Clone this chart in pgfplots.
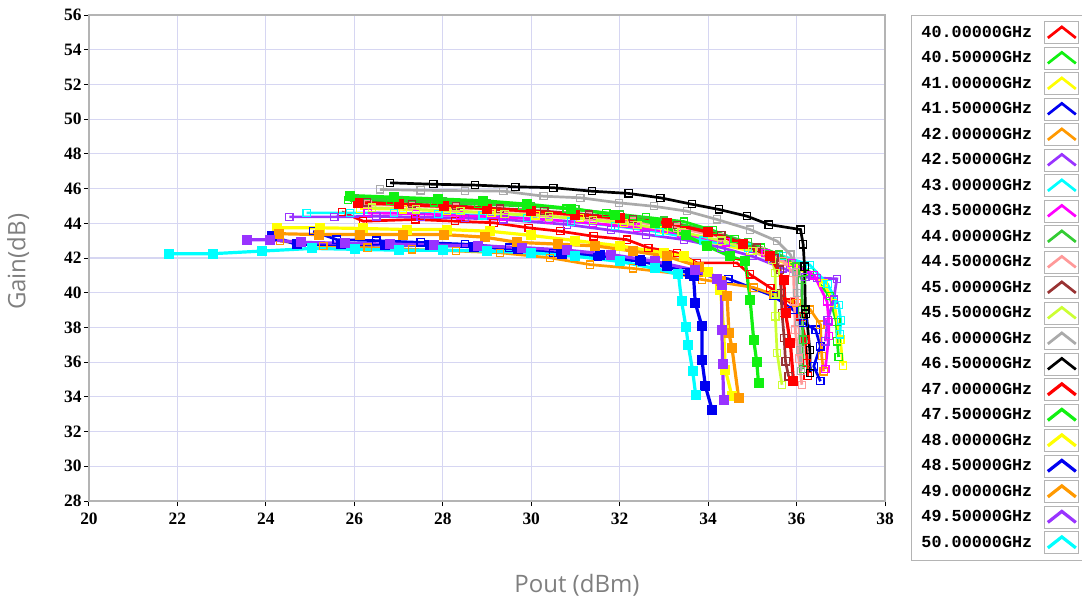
\documentclass[border=0pt]{standalone}
\usepackage{fontspec}
\setmainfont{Liberation Serif}
\newfontfamily\labfont{Open Sans}
\newfontfamily\legfont{Liberation Mono}
\usepackage{pgfplots}
\pgfplotsset{compat=1.18}

\definecolor{cRed}{HTML}{FF0000}
\definecolor{cLime}{HTML}{11F011}
\definecolor{cYel}{HTML}{FFFF00}
\definecolor{cBlue}{HTML}{0000F0}
\definecolor{cOrg}{HTML}{FF9900}
\definecolor{cPur}{HTML}{9933FF}
\definecolor{cCyan}{HTML}{00FFFF}
\definecolor{cMag}{HTML}{FF00FF}
\definecolor{cGrn}{HTML}{33CC33}
\definecolor{cPink}{HTML}{FF9999}
\definecolor{cBrn}{HTML}{993333}
\definecolor{cYG}{HTML}{CCFF33}
\definecolor{cGray}{HTML}{AAAAAA}
\definecolor{gridc}{HTML}{D6D6F2}
\definecolor{axc}{HTML}{B4B4B4}
\definecolor{labc}{HTML}{7F7F7F}

\pgfplotsset{
  openser/.style={line width=1.35pt, mark=square, mark size=1.8pt, mark options={solid, line width=0.6pt}},
  fillser/.style={line width=1.6pt, mark=square*, mark size=1.7pt, mark options={solid}},
}

\begin{document}
\begin{tikzpicture}
\path[use as bounding box] (-44.5pt,-49.5pt) rectangle (496.5pt,250.5pt);
\begin{axis}[
    at={(0,0)}, anchor=south west,
    width=398pt, height=243pt, scale only axis,
    xmin=20, xmax=38, ymin=28, ymax=56,
    xtick={20,22,...,38}, ytick={28,30,...,56},
    xtick pos=bottom, ytick pos=left,
    tick align=outside, major tick length=2.5pt,
    tick style={black, line width=0.5pt},
    axis line style={axc, line width=0.8pt},
    grid=major, grid style={gridc, line width=0.6pt},
    ticklabel style={font=\fontsize{8.7}{9}\selectfont\bfseries},
    /pgf/number format/assume math mode=true,
    yticklabel style={inner sep=1pt},
    xlabel={Pout (dBm)}, ylabel={Gain(dB)},
    xlabel style={at={(axis description cs:0.613,-0.173)}, anchor=center,
                  font=\labfont\fontsize{12}{14}\selectfont, text=labc},
    ylabel style={at={(axis description cs:-0.089,0.492)}, anchor=center, rotate=0,
                  font=\labfont\fontsize{12}{14}\selectfont, text=labc},
    legend plot pos=right,
    legend cell align=left,
    legend style={at={(1.0327,1)}, anchor=north west, draw=axc, fill=white,
                  font=\legfont\fontsize{8.4}{9}\selectfont\bfseries,
                  row sep=1.25pt, column sep=4pt, inner sep=3pt},
    legend image code/.code={
      \draw[draw=axc, line width=0.5pt, fill=white, solid] (0pt,-5.5pt) rectangle (17pt,5.5pt);
      \draw[solid] (1.5pt,-2.5pt) -- (8.5pt,3pt) -- (15.5pt,-2.5pt);
    },
]
% 40.0 GHz
\addplot[openser, color=cRed] coordinates {(25.72,44.66) (26.2,44.12) (27.38,44.22) (28.28,44.12) (29.15,44.03) (29.94,43.74) (30.66,43.54) (31.41,43.25) (32.16,43.06) (32.65,42.59) (33.29,42.3) (33.75,41.72) (34.65,41.72) (34.95,41.05) (35.41,40.28) (35.86,39.43) (36.09,38.64) (36.2,37.3) (36.24,35.95) (36.25,35.2)};
\addlegendentry{40.00000GHz}
% 40.5
\addplot[openser, color=cLime] coordinates {(25.85,45.35) (26.8,45.3) (27.8,45.2) (28.8,45.1) (29.8,45.0) (30.8,44.85) (31.7,44.6) (32.6,44.35) (33.45,44.1) (34.1,43.6) (34.6,43.1) (35.2,42.6) (35.7,42.1) (36.3,41.2) (36.75,39.8) (36.9,38.3) (36.92,37.2) (36.95,36.3)};
\addlegendentry{40.50000GHz}
% 41.0
\addplot[openser, color=cYel] coordinates {(26.13,44.85) (27.1,44.8) (28.1,44.7) (29.1,44.6) (30.1,44.45) (31.1,44.3) (32.1,44.0) (33.0,43.6) (33.9,43.0) (34.95,42.4) (35.93,41.55) (36.61,40.57) (36.85,39.4) (36.99,37.3) (37.05,35.8)};
\addlegendentry{41.00000GHz}
% 41.5
\addplot[openser, color=cBlue] coordinates {(25.07,43.54) (25.6,43.06) (26.5,43.0) (27.5,42.9) (28.5,42.8) (29.5,42.6) (30.5,42.3) (31.5,42.05) (32.5,41.8) (33.5,41.2) (34.46,40.8) (35.48,39.8) (35.93,39.0) (36.16,38.26) (36.43,37.87) (36.54,36.91) (36.39,35.76) (36.54,34.9)};
\addlegendentry{41.50000GHz}
% 42.0
\addplot[openser, color=cOrg] coordinates {(24.32,42.97) (25.3,42.7) (26.3,42.6) (27.3,42.5) (28.3,42.4) (29.3,42.3) (30.43,42.01) (31.33,41.62) (32.3,41.4) (33.3,41.1) (33.86,40.76) (35.03,40.3) (35.48,39.9) (36.0,39.4) (36.31,39.03) (36.54,38.16) (36.57,36.34) (36.61,35.47)};
\addlegendentry{42.00000GHz}
% 42.5
\addplot[openser, color=cPur] coordinates {(24.53,44.37) (25.55,44.37) (26.5,44.4) (27.5,44.35) (28.5,44.3) (29.37,44.22) (30.81,43.93) (31.8,43.6) (32.6,43.35) (33.45,43.06) (34.3,42.6) (35.0,42.1) (35.7,41.4) (36.2,40.9) (36.46,40.85) (36.91,40.8) (36.84,39.6) (36.7,38.4) (36.65,37.2)};
\addlegendentry{42.50000GHz}
% 43.0
\addplot[openser, color=cCyan] coordinates {(24.92,44.6) (25.9,44.6) (26.9,44.6) (27.9,44.55) (28.9,44.45) (29.9,44.3) (30.9,44.1) (31.9,43.85) (32.9,43.5) (33.9,43.0) (34.9,42.6) (35.7,42.1) (36.3,41.6) (36.7,40.5) (36.95,39.3) (37.0,38.4) (36.98,37.6)};
\addlegendentry{43.00000GHz}
% 43.5
\addplot[openser, color=cMag] coordinates {(26.3,44.6) (27.4,44.55) (28.4,44.45) (29.4,44.35) (30.4,44.2) (31.4,44.0) (32.4,43.75) (33.4,43.4) (34.4,42.9) (35.3,42.3) (35.9,41.7) (36.4,41.0) (36.69,39.5) (36.73,38.3) (36.73,37.49) (36.65,35.6)};
\addlegendentry{43.50000GHz}
% 44.0
\addplot[openser, color=cGrn] coordinates {(26.0,45.45) (27.0,45.35) (28.0,45.25) (29.0,45.15) (30.0,45.0) (31.0,44.8) (32.0,44.5) (33.0,44.15) (34.0,43.6) (34.9,42.9) (35.6,42.2) (36.0,41.5) (36.12,40.76) (36.13,39.0) (36.14,37.3) (36.15,35.6)};
\addlegendentry{44.00000GHz}
% 44.5
\addplot[openser, color=cPink] coordinates {(26.3,45.1) (27.3,45.0) (28.3,44.9) (29.3,44.75) (30.3,44.6) (31.3,44.4) (32.3,44.1) (33.3,43.75) (34.3,43.2) (35.2,42.4) (35.7,41.8) (35.93,41.14) (35.95,39.5) (35.97,37.87) (36.05,36.2) (36.12,34.7)};
\addlegendentry{44.50000GHz}
% 45.0
\addplot[openser, color=cBrn] coordinates {(26.28,45.2) (27.3,45.1) (28.3,45.0) (29.3,44.85) (30.3,44.7) (31.3,44.5) (32.3,44.25) (33.3,43.9) (34.3,43.3) (35.1,42.6) (35.5,42.0) (35.63,41.33) (35.65,40.0) (35.67,38.84) (35.72,37.4) (35.75,36.04) (35.82,35.18)};
\addlegendentry{45.00000GHz}
% 45.5
\addplot[openser, color=cYG] coordinates {(26.4,44.9) (27.4,44.8) (28.4,44.7) (29.4,44.55) (30.4,44.4) (31.4,44.2) (32.4,43.9) (33.4,43.5) (34.3,43.0) (35.0,42.4) (35.45,41.9) (35.52,41.14) (35.52,39.9) (35.52,38.64) (35.56,36.53) (35.67,34.7)};
\addlegendentry{45.50000GHz}
% 46.0
\addplot[openser, color=cGray] coordinates {(26.58,45.95) (27.5,45.9) (28.5,45.88) (29.37,45.85) (30.28,45.56) (31.11,45.47) (31.98,45.18) (32.77,44.98) (33.52,44.7) (34.2,44.22) (34.95,43.64) (35.56,42.97) (35.86,42.2) (36.0,41.2) (36.01,40.0) (36.05,38.3) (36.08,36.7) (36.1,35.5)};
\addlegendentry{46.00000GHz}
% 46.5
\addplot[openser, color=black] coordinates {(26.81,46.33) (27.79,46.25) (28.73,46.2) (29.64,46.1) (30.5,46.05) (31.37,45.85) (32.2,45.72) (32.92,45.47) (33.63,45.1) (34.24,44.8) (34.88,44.41) (35.37,43.93) (36.09,43.64) (36.15,42.78) (36.18,41.5) (36.2,39.03) (36.22,38.8) (36.3,36.7) (36.31,35.38)};
\addlegendentry{46.50000GHz}
% 47.0
\addplot[fillser, color=cRed] coordinates {(26.09,45.18) (27.0,45.1) (28.02,44.98) (29.0,44.85) (30.0,44.7) (31.0,44.5) (32.0,44.3) (33.07,44.03) (34.0,43.5) (34.8,42.8) (35.4,42.1) (35.71,40.76) (35.75,38.84) (35.86,37.11) (35.93,34.9)};
\addlegendentry{47.00000GHz}
% 47.5
\addplot[fillser, color=cLime] coordinates {(25.9,45.6) (26.9,45.5) (27.9,45.4) (28.9,45.3) (29.9,45.1) (30.9,44.85) (31.9,44.5) (32.8,44.0) (33.5,43.3) (33.98,42.68) (34.5,42.1) (34.84,41.81) (34.95,39.6) (35.03,37.3) (35.1,36.0) (35.14,34.8)};
\addlegendentry{47.50000GHz}
% 48.0
\addplot[fillser, color=cYel] coordinates {(24.26,43.74) (25.23,43.74) (26.2,43.7) (27.19,43.64) (28.09,43.64) (29.07,43.54) (30.0,43.3) (31.0,43.0) (32.0,42.7) (33.0,42.3) (33.45,42.1) (34.0,41.2) (34.28,40.18) (34.35,37.88) (34.39,35.57) (34.54,34.03)};
\addlegendentry{48.00000GHz}
% 48.5
\addplot[fillser, color=cBlue] coordinates {(24.13,43.26) (24.7,42.78) (25.7,42.8) (26.7,42.75) (27.7,42.75) (28.7,42.65) (29.7,42.5) (30.7,42.25) (31.56,42.2) (32.47,41.91) (33.07,41.53) (33.6,41.1) (33.67,40.95) (33.71,39.41) (33.86,38.07) (33.86,36.14) (33.94,34.6) (34.09,33.26)};
\addlegendentry{48.50000GHz}
% 49.0
\addplot[fillser, color=cOrg] coordinates {(24.3,43.4) (25.2,43.35) (26.13,43.35) (27.1,43.35) (28.02,43.35) (28.95,43.2) (29.68,42.9) (30.6,42.8) (31.45,42.7) (32.3,42.4) (33.07,42.1) (33.8,41.5) (34.3,40.7) (34.43,39.79) (34.47,37.69) (34.54,36.82) (34.69,33.94)};
\addlegendentry{49.00000GHz}
% 49.5
\addplot[fillser, color=cPur] coordinates {(23.57,43.05) (24.1,43.05) (24.8,42.9) (25.8,42.85) (26.8,42.8) (27.8,42.75) (28.8,42.7) (29.8,42.6) (30.8,42.45) (31.8,42.2) (32.8,41.8) (33.7,41.3) (34.2,40.8) (34.31,40.47) (34.31,37.88) (34.33,35.9) (34.35,33.84)};
\addlegendentry{49.50000GHz}
% 50.0
\addplot[fillser, color=cCyan] coordinates {(21.82,42.25) (22.81,42.25) (23.91,42.4) (25.04,42.55) (26.02,42.5) (27.0,42.45) (28.0,42.45) (29.0,42.4) (30.0,42.3) (31.0,42.1) (32.0,41.8) (32.8,41.4) (33.33,41.05) (33.4,39.5) (33.5,38.0) (33.55,37.0) (33.65,35.5) (33.72,34.1)};
\addlegendentry{50.00000GHz}
\end{axis}
\end{tikzpicture}
\end{document}
